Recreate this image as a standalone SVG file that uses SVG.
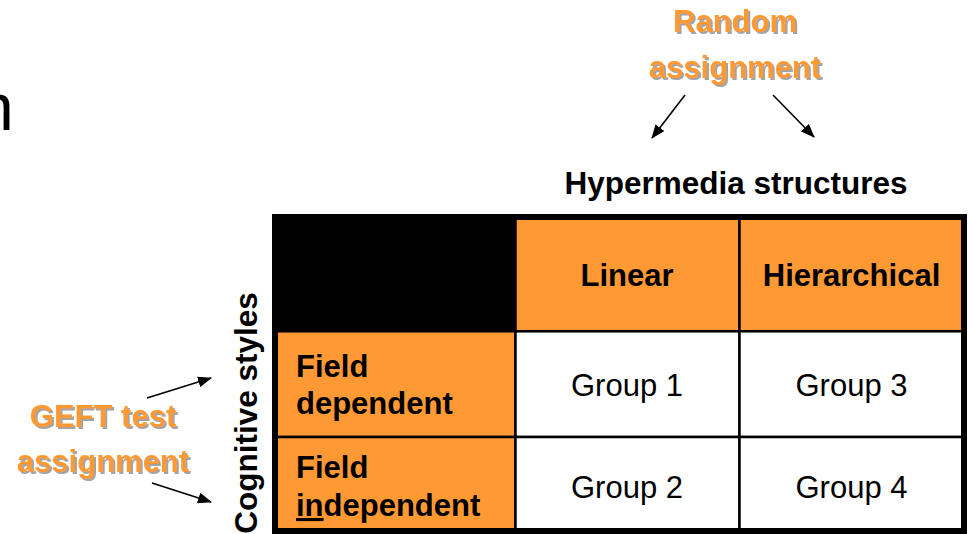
<svg xmlns="http://www.w3.org/2000/svg" width="968" height="534" viewBox="0 0 968 534">
<style>
text{font-family:"Liberation Sans",Arial,sans-serif;font-size:31px;fill:#000}
.b{font-weight:bold}
.c{text-anchor:middle}
.or{fill:#FF9933;font-weight:bold;text-anchor:middle;filter:url(#sh)}
.cellO{fill:#FF9933;stroke:#000;stroke-width:2.5}
.cellW{fill:#fff;stroke:#000;stroke-width:2.5}
.conn line{stroke:#000;stroke-width:1.6;marker-end:url(#ah)}
</style>
<defs>
<filter id="sh" x="-10%" y="-20%" width="130%" height="150%">
<feDropShadow dx="2" dy="2" stdDeviation="0.7" flood-color="#9a9a9a" flood-opacity="0.9"/>
</filter>
<marker id="ah" viewBox="0 0 14 11" refX="13" refY="5.5" markerWidth="14" markerHeight="11" markerUnits="userSpaceOnUse" orient="auto">
<path d="M0,0 L14,5.5 L0,11 z" fill="#000"/>
</marker>
</defs>
<rect width="968" height="534" fill="#fff"/>
<g id="title-fragment"><text x="-23" y="130" style="font-size:66px">n</text></g>
<g id="random-assignment">
<text class="or" x="735" y="32">Random</text>
<text class="or" x="735" y="78">assignment</text>
</g>
<g id="geft-assignment">
<text class="or" x="103" y="427">GEFT test</text>
<text class="or" x="103" y="472">assignment</text>
</g>
<g id="hypermedia-label"><text class="b c" x="736" y="194" style="font-size:31.5px">Hypermedia structures</text></g>
<g id="cognitive-label"><text class="b c" transform="translate(257,413) rotate(-90)" style="font-size:31.5px">Cognitive styles</text></g>
<g id="table">
<g id="corner"><rect x="275" y="217" width="240.5" height="114.3" fill="#000" stroke="#000" stroke-width="2.5"/></g>
<g id="linear"><rect class="cellO" x="515.5" y="217" width="224" height="114.3"/><text class="b c" x="627" y="286">Linear</text></g>
<g id="hierarchical"><rect class="cellO" x="739.5" y="217" width="224.5" height="114.3"/><text class="b c" x="851.5" y="286">Hierarchical</text></g>
<g id="field-dependent"><rect class="cellO" x="275" y="331.3" width="240.5" height="105.7"/><text class="b" x="296" y="377">Field</text><text class="b" x="296" y="414">dependent</text></g>
<g id="group1"><rect class="cellW" x="515.5" y="331.3" width="224" height="105.7"/><text class="c" x="627" y="396">Group 1</text></g>
<g id="group3"><rect class="cellW" x="739.5" y="331.3" width="224.5" height="105.7"/><text class="c" x="851.5" y="396">Group 3</text></g>
<g id="field-independent"><rect class="cellO" x="275" y="437" width="240.5" height="94"/><text class="b" x="296" y="478">Field</text><text class="b" x="296" y="516"><tspan text-decoration="underline">in</tspan>dependent</text></g>
<g id="group2"><rect class="cellW" x="515.5" y="437" width="224" height="94"/><text class="c" x="627" y="498">Group 2</text></g>
<g id="group4"><rect class="cellW" x="739.5" y="437" width="224.5" height="94"/><text class="c" x="851.5" y="498">Group 4</text></g>
<rect x="275" y="217" width="689" height="314" fill="none" stroke="#000" stroke-width="6"/>
</g>
<g id="connectors" class="conn">
<line x1="685" y1="95" x2="652" y2="138"/>
<line x1="773" y1="95" x2="814" y2="137"/>
<line x1="147" y1="398" x2="211" y2="378"/>
<line x1="152" y1="483" x2="211" y2="502"/>
</g>
</svg>
